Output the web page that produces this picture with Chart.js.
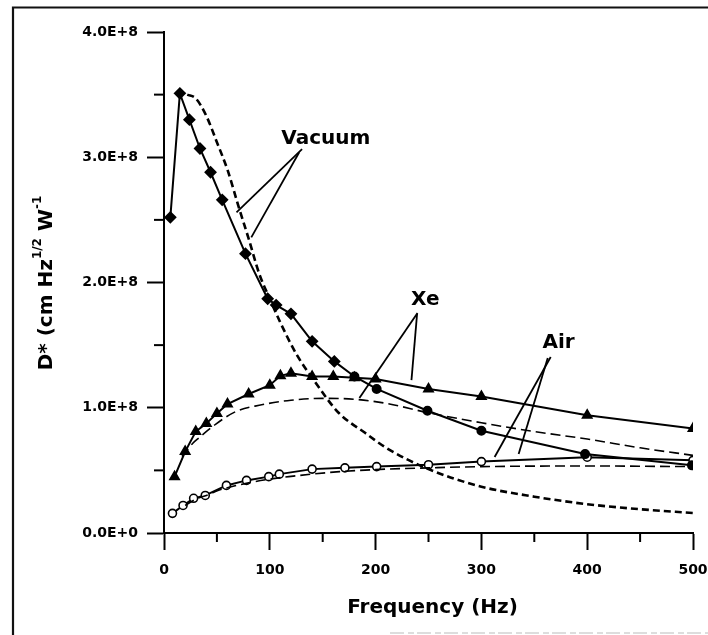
<!DOCTYPE html>
<html><head><meta charset="utf-8">
<script src="https://cdn.jsdelivr.net/npm/chart.js@4"></script>
<style>html,body{margin:0;padding:0;background:#fff}canvas{display:block}</style>
</head><body>
<canvas id="c" width="708" height="635"></canvas>
<script>
// ---- data (frequency in Hz, D* in cm Hz^1/2 W^-1) ----
const vacuumFreq = [6, 15, 24, 34, 44, 55, 77, 98, 106, 120, 140, 161, 180, 201, 249, 300, 398, 499];
const vacuumD    = [2.52e8, 3.51e8, 3.30e8, 3.07e8, 2.88e8, 2.66e8, 2.23e8, 1.87e8, 1.82e8, 1.75e8, 1.53e8, 1.37e8, 1.25e8, 1.15e8, 0.976e8, 0.816e8, 0.63e8, 0.54e8];
const xeFreq = [10, 20, 30, 40, 50, 60, 80, 100, 110, 120, 140, 160, 180, 200, 250, 300, 400, 500];
const xeD    = [0.45e8, 0.65e8, 0.81e8, 0.875e8, 0.955e8, 1.03e8, 1.11e8, 1.18e8, 1.255e8, 1.275e8, 1.25e8, 1.25e8, 1.24e8, 1.23e8, 1.15e8, 1.09e8, 0.94e8, 0.835e8];
const airFreq = [8, 18, 28, 39, 59, 78, 99, 109, 140, 171, 201, 250, 300, 400, 500];
const airD    = [0.157e8, 0.22e8, 0.277e8, 0.30e8, 0.38e8, 0.42e8, 0.45e8, 0.47e8, 0.51e8, 0.52e8, 0.53e8, 0.545e8, 0.57e8, 0.605e8, 0.58e8];
// model curves (dashed)
const vacuumFitFreq = [22, 30, 40, 50, 60, 70, 80, 90, 100, 110, 125, 145, 165, 190, 210, 250, 300, 350, 400, 450, 500];
const vacuumFitD    = [3.50e8, 3.47e8, 3.33e8, 3.12e8, 2.90e8, 2.62e8, 2.35e8, 2.07e8, 1.87e8, 1.68e8, 1.43e8, 1.18e8, 0.96e8, 0.80e8, 0.68e8, 0.51e8, 0.37e8, 0.29e8, 0.23e8, 0.19e8, 0.16e8];
const xeFitFreq = [17, 27, 33, 49, 68, 90, 120, 150, 181, 210, 250, 300, 350, 400, 450, 500];
const xeFitD    = [0.61e8, 0.715e8, 0.76e8, 0.87e8, 0.97e8, 1.02e8, 1.06e8, 1.075e8, 1.067e8, 1.035e8, 0.96e8, 0.88e8, 0.81e8, 0.75e8, 0.68e8, 0.62e8];
const airFitFreq = [20, 30, 40, 55, 80, 100, 118, 140, 166, 210, 250, 300, 400, 500];
const airFitD    = [0.22e8, 0.27e8, 0.30e8, 0.35e8, 0.40e8, 0.43e8, 0.45e8, 0.47e8, 0.49e8, 0.51e8, 0.52e8, 0.53e8, 0.535e8, 0.53e8];
const xTickLabels = ['0', '100', '200', '300', '400', '500'];
const yTickLabels = ['0.0E+0', '1.0E+8', '2.0E+8', '3.0E+8', '4.0E+8'];
const xTitle = 'Frequency (Hz)';
const seriesLabels = ['Vacuum', 'Xe', 'Air'];

const pts = (xs, ys) => xs.map((x, i) => ({x, y: ys[i]}));
const FONT = '"DejaVu Sans", "Liberation Sans", Arial, sans-serif';

const annotations = [
  {text: seriesLabels[0], at: [153, 3.15e8], lines: [[[130.5, 3.065e8], [68.5, 2.56e8]], [[127.8, 3.04e8], [82.5, 2.36e8]]]},
  {text: seriesLabels[1], at: [247, 1.86e8], lines: [[[239.6, 1.756e8], [184.7, 1.077e8]], [[239.2, 1.75e8], [233.9, 1.221e8]]]},
  {text: seriesLabels[2], at: [373, 1.516e8], lines: [[[365.5, 1.405e8], [312.5, 0.607e8]], [[362.7, 1.397e8], [335.2, 0.63e8]]]}
];

const framePlugin = {
  id: 'frame',
  beforeDraw(chart) {
    const c = chart.ctx;
    c.save();
    c.fillStyle = '#fff';
    c.fillRect(0, 0, chart.width, chart.height);
    c.strokeStyle = '#111';
    c.lineWidth = 2.2;
    c.beginPath();
    c.moveTo(13, 635); c.lineTo(13, 7.5); c.lineTo(708, 7.5);
    c.stroke();
    c.strokeStyle = '#bbb';
    c.lineWidth = 1;
    c.setLineDash([14, 4, 6, 3]);
    c.beginPath();
    c.moveTo(390, 633); c.lineTo(708, 633);
    c.stroke();
    c.restore();
  }
};

const extrasPlugin = {
  id: 'extras',
  afterDraw(chart) {
    const c = chart.ctx;
    const xs = chart.scales.x, ys = chart.scales.y;
    const ca = chart.chartArea;
    c.save();
    // minor ticks
    c.strokeStyle = '#000';
    c.lineWidth = 2;
    for (let v = 50; v < 500; v += 100) {
      const px = xs.getPixelForValue(v);
      c.beginPath(); c.moveTo(px, ca.bottom); c.lineTo(px, ca.bottom + 9); c.stroke();
    }
    for (let v = 0.5e8; v < 4e8; v += 1e8) {
      const py = ys.getPixelForValue(v);
      c.beginPath(); c.moveTo(ca.left, py); c.lineTo(ca.left - 10, py); c.stroke();
    }
    // annotations
    c.fillStyle = '#000';
    c.font = 'bold 20px ' + FONT;
    c.textAlign = 'center';
    c.textBaseline = 'middle';
    c.lineWidth = 1.8;
    annotations.forEach(a => {
      c.fillText(a.text, xs.getPixelForValue(a.at[0]), ys.getPixelForValue(a.at[1]));
      a.lines.forEach(l => {
        c.beginPath();
        c.moveTo(xs.getPixelForValue(l[0][0]), ys.getPixelForValue(l[0][1]));
        c.lineTo(xs.getPixelForValue(l[1][0]), ys.getPixelForValue(l[1][1]));
        c.stroke();
      });
    });
    // x title
    c.font = 'bold 20px ' + FONT;
    c.fillText(xTitle, (ca.left + ca.right) / 2 + 4, 608);
    // y title, rotated with superscripts
    const parts = [
      {t: 'D* (cm Hz', f: 20, dy: 0},
      {t: '1/2', f: 12, dy: -9},
      {t: ' W', f: 20, dy: 0},
      {t: '-1', f: 12, dy: -9}
    ];
    let total = 0;
    parts.forEach(p => { c.font = 'bold ' + p.f + 'px ' + FONT; p.w = c.measureText(p.t).width; total += p.w; });
    c.translate(47, 283);
    c.rotate(-Math.PI / 2);
    c.textAlign = 'left';
    let x0 = -total / 2;
    parts.forEach(p => {
      c.font = 'bold ' + p.f + 'px ' + FONT;
      c.fillText(p.t, x0, p.dy);
      x0 += p.w;
    });
    c.restore();
  }
};

const solidBase = {borderColor: '#000', borderWidth: 2, tension: 0, pointBorderColor: '#000'};
const dashBase = {borderColor: '#000', pointRadius: 0, tension: 0.4, cubicInterpolationMode: 'monotone', fill: false};

new Chart(document.getElementById('c'), {
  type: 'line',
  data: {
    datasets: [
      Object.assign({label: 'Vacuum model', data: pts(vacuumFitFreq, vacuumFitD), borderWidth: 2.6, borderDash: [7, 4]}, dashBase),
      Object.assign({label: 'Xe model', data: pts(xeFitFreq, xeFitD), borderWidth: 1.6, borderDash: [10, 5]}, dashBase),
      Object.assign({label: 'Air model', data: pts(airFitFreq, airFitD), borderWidth: 1.6, borderDash: [10, 5]}, dashBase),
      Object.assign({label: seriesLabels[0], data: pts(vacuumFreq, vacuumD),
        pointStyle: ctx => (ctx.raw && ctx.raw.x >= 180 ? 'circle' : 'rectRot'),
        pointRadius: ctx => (ctx.raw && ctx.raw.x >= 180 ? 4 : 5),
        pointBackgroundColor: '#000'}, solidBase),
      Object.assign({label: seriesLabels[1], data: pts(xeFreq, xeD), pointStyle: 'triangle', pointRadius: 5,
        pointBackgroundColor: '#000'}, solidBase),
      Object.assign({label: seriesLabels[2], data: pts(airFreq, airD), pointStyle: 'circle', pointRadius: 4,
        pointBackgroundColor: '#fff', pointBorderWidth: 1.6}, solidBase)
    ]
  },
  options: {
    responsive: false,
    animation: false,
    devicePixelRatio: 1,
    layout: {padding: {left: 0, right: 15, top: 32, bottom: 0}},
    plugins: {legend: {display: false}, tooltip: {enabled: false}},
    elements: {point: {hoverRadius: 5}},
    scales: {
      x: {
        type: 'linear', min: 0, max: 500,
        afterFit: s => { s.height = 102; s.paddingRight = 15; s.paddingLeft = 0; },
        border: {color: '#000', width: 2},
        grid: {drawOnChartArea: false, drawTicks: true, tickLength: 17, tickWidth: 2, tickColor: '#000'},
        ticks: {stepSize: 100, color: '#000', padding: 12, maxRotation: 0,
          font: {family: FONT, size: 14, weight: 'bold'},
          callback: (v, i) => xTickLabels[i]}
      },
      y: {
        type: 'linear', min: 0, max: 4e8,
        afterFit: s => { s.width = 164; },
        border: {color: '#000', width: 2},
        grid: {drawOnChartArea: false, drawTicks: true, tickLength: 17, tickWidth: 2, tickColor: '#000'},
        ticks: {stepSize: 1e8, color: '#000', padding: 9,
          font: {family: FONT, size: 14, weight: 'bold'},
          callback: (v, i) => yTickLabels[i]}
      }
    }
  },
  plugins: [framePlugin, extrasPlugin]
});
</script>
</body></html>
